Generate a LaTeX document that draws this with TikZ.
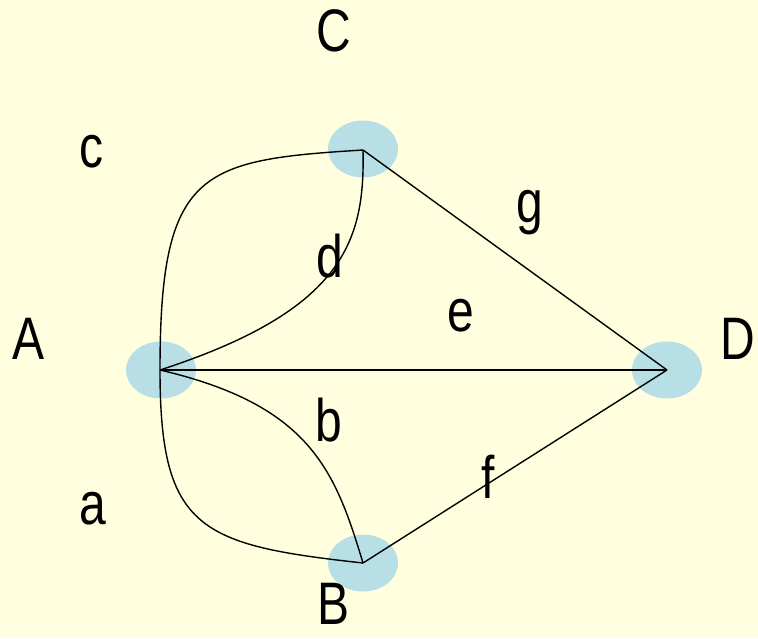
\documentclass[tikz,border=0pt]{standalone}
\usepackage{fontspec}
\setmainfont{Liberation Sans}[FakeStretch=0.8]
\usetikzlibrary{shapes.geometric}
\definecolor{bgcream}{RGB}{255,255,224}
\definecolor{dotblue}{RGB}{184,222,230}
\tikzset{
  vdot/.style={ellipse, fill=dotblue, draw=none, minimum width=70pt, minimum height=57pt, inner sep=0pt},
  edge/.style={draw=black, line width=1.4pt},
  lbl/.style={anchor=base, inner sep=0pt, font=\fontsize{60}{62}\selectfont}
}
\begin{document}
\begin{tikzpicture}[x=1pt,y=-1pt]
\fill[bgcream] (0,0) rectangle (758,638);
\useasboundingbox (0,0) rectangle (758,638);
\node[vdot] (A) at (161,370) {};
\node[vdot] (C) at (363,149) {};
\node[vdot] (D) at (667,370) {};
\node[vdot] (B) at (363,563) {};
\coordinate (a0) at (160,370);
\coordinate (c0) at (363,150);
\coordinate (d0) at (667,370);
\coordinate (b0) at (363,563);
% edges
\draw[edge] (a0) .. controls (160,170) and (200,160) .. (c0);
\draw[edge] (a0) .. controls (345,310) and (365,240) .. (c0);
\draw[edge] (a0) .. controls (160,530) and (200,545) .. (b0);
\draw[edge] (a0) .. controls (310,405) and (335,470) .. (b0);
\draw[edge] (a0) -- (d0);
\draw[edge] (c0) -- (d0);
\draw[edge] (b0) -- (d0);
% labels
\node[lbl] (lC) at (334,51) {C};
\node[lbl] (lA) at (29,359) {A};
\node[lbl] (lD) at (738,359) {D};
\node[lbl] (lB) at (334,624) {B};
\node[lbl] (lc) at (91,167) {c};
\node[lbl] (lg) at (530,222) {g};
\node[lbl] (ld) at (330,277) {d};
\node[lbl] (le) at (461,331) {e};
\node[lbl] (lb) at (329,441) {b};
\node[lbl] (lf) at (488,498) {f};
\node[lbl] (la) at (93,524) {a};
\end{tikzpicture}
\end{document}
